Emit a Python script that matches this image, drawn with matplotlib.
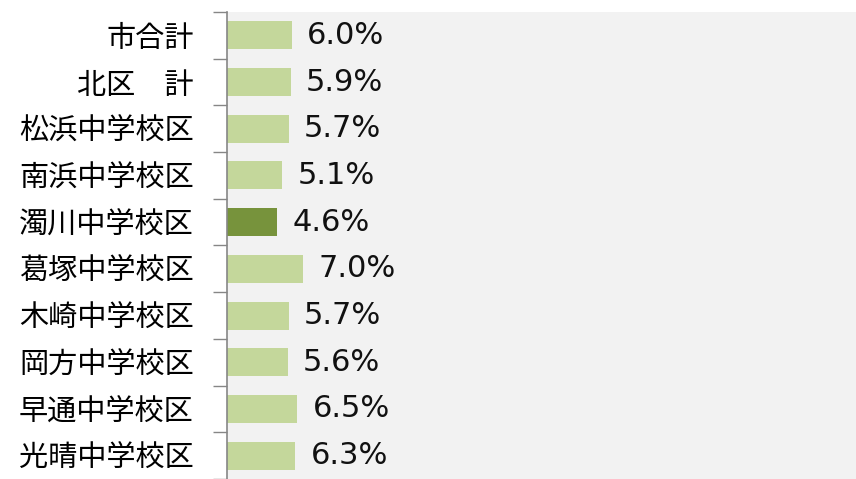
import matplotlib
matplotlib.use("Agg")
import matplotlib.pyplot as plt
import numpy as np

plt.rcParams['font.family'] = ['Noto Sans CJK JP', 'DejaVu Sans']

# data
areas = ["市合計", "北区　計", "松浜中学校区", "南浜中学校区", "濁川中学校区",
         "葛塚中学校区", "木崎中学校区", "岡方中学校区", "早通中学校区", "光晴中学校区"]
rates = [6.0, 5.9, 5.7, 5.1, 4.6, 7.0, 5.7, 5.6, 6.5, 6.3]
highlight = "濁川中学校区"

light = "#c4d79b"
dark = "#77933c"
colors = [dark if a == highlight else light for a in areas]

fig = plt.figure(figsize=(8.56, 4.79), dpi=100)
ax = fig.add_axes([227 / 856, 0, (856 - 227) / 856, 467 / 479])
ax.set_facecolor("#f2f2f2")

y = np.arange(len(areas))
ax.barh(y, rates, height=0.6, color=colors)

for yi, r in zip(y, rates):
    ax.text(r + 1.4, yi, f"{r:.1f}%", va="center", ha="left",
            fontsize=22, family="DejaVu Sans", color="#111111")

ax.set_xlim(0, 58)
ax.set_ylim(len(areas) - 0.5, -0.5)

ax.set_yticks(y)
ax.set_yticklabels(areas, fontsize=21)
ax.tick_params(axis="y", which="major", length=0, pad=24)
ax.set_yticks(np.arange(-0.5, len(areas), 1.0), minor=True)
ax.tick_params(axis="y", which="minor", length=10, color="#868686", width=1)
ax.set_xticks([])

for s in ["top", "right", "bottom"]:
    ax.spines[s].set_visible(False)
ax.spines["left"].set_color("#868686")
ax.spines["left"].set_linewidth(1.2)

fig.savefig("out.png", dpi=100)
